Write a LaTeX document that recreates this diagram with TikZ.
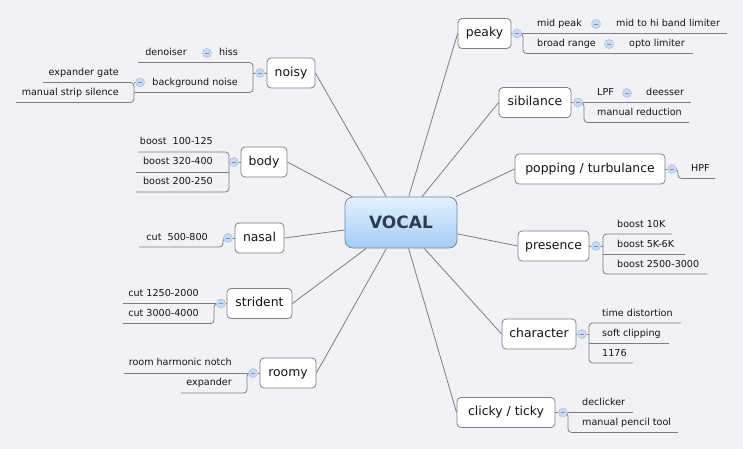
\documentclass[tikz,border=0pt]{standalone}
\usepackage{fontspec}
\setmainfont{DejaVu Sans}
\pgfdeclarelayer{background}
\pgfsetlayers{background,main}
\definecolor{bgc}{RGB}{241,242,246}
\definecolor{linec}{RGB}{125,125,128}
\definecolor{boxc}{RGB}{128,128,132}
\definecolor{vtop}{RGB}{228,241,253}
\definecolor{vbot}{RGB}{163,204,245}
\definecolor{vborder}{RGB}{112,136,162}
\definecolor{vtext}{RGB}{45,60,82}
\definecolor{circf}{RGB}{203,218,240}
\definecolor{circd}{RGB}{168,190,222}
\definecolor{txt}{RGB}{20,20,20}
\begin{document}
\begin{tikzpicture}[x=1pt,y=-1pt,
  main/.style={draw=linec, line width=0.8pt},
  link/.style={draw=linec, line width=0.8pt, rounded corners=3.5pt},
  topic/.style={draw=boxc, fill=white, rounded corners=4pt, line width=0.8pt,
    minimum height=30pt, inner sep=0pt, font=\fontsize{12.4}{14}\selectfont,
    text=txt, text height=9pt, text depth=2.5pt},
  leaf/.style={inner sep=0pt, font=\fontsize{9.6}{11}\selectfont, text=txt,
    text height=7pt, text depth=2pt},
  knob/.style={circle, fill=circf, draw=circd, line width=0.5pt, minimum size=9pt,
    inner sep=0pt, path picture={\draw[circd!75!black, line width=0.6pt]
      ([xshift=-2.2pt]path picture bounding box.center) --
      ([xshift=2.2pt]path picture bounding box.center);}},
]
\useasboundingbox (0,0) rectangle (743,448);
% central node
\node[draw=vborder, line width=0.8pt, rounded corners=8pt, top color=vtop,
  bottom color=vbot, minimum width=112pt, minimum height=51pt, inner sep=0pt,
  font=\bfseries\fontsize{17}{20}\selectfont, text=vtext] (vocal) at (401,222.5) {VOCAL};

% topics
\node[topic, minimum width=48pt]  (noisy)    at (291,73)      {noisy};
\node[topic, minimum width=46pt]  (body)     at (264,162)     {body};
\node[topic, minimum width=49pt]  (nasal)    at (259.5,238)   {nasal};
\node[topic, minimum width=65pt]  (strident) at (259.5,303.5) {strident};
\node[topic, minimum width=56pt]  (roomy)    at (288,373)     {roomy};
\node[topic, minimum width=53pt]  (peaky)    at (484.5,33.5)  {peaky};
\node[topic, minimum width=72pt]  (sibil)    at (535,102.5)   {sibilance};
\node[topic, minimum width=150pt] (popping)  at (590,169)     {popping / turbulance};
\node[topic, minimum width=71pt]  (presence) at (553.5,246)   {presence};
\node[topic, minimum width=74pt]  (charac)   at (539,334)     {character};
\node[topic, minimum width=98pt]  (clicky)   at (506,412.5)   {clicky / ticky};

% knobs
\node[knob] (knoisy) at (260,73) {};
\node[knob] (kbody)  at (234,162) {};
\node[knob] (knasal) at (228,238) {};
\node[knob] (kstr)   at (221,303.5) {};
\node[knob] (kroomy) at (253,373) {};
\node[knob] (kpeaky) at (517,33.5) {};
\node[knob] (ksibil) at (578,102.5) {};
\node[knob] (kpop)   at (672,169) {};
\node[knob] (kpres)  at (596,246) {};
\node[knob] (kchar)  at (582,334) {};
\node[knob] (kclick) at (563,412.5) {};
\node[knob] (kn1) at (207,53) {};
\node[knob] (kn2) at (140,82.5) {};
\node[knob] (km1) at (596,24) {};
\node[knob] (km2) at (609,44) {};
\node[knob] (ks1) at (627,93) {};

% leaves, left side
\node[leaf, anchor=east] (n1)  at (238,53)    {hiss};
\node[leaf, anchor=east] (n1g) at (187,53)    {denoiser};
\node[leaf, anchor=east] (n2)  at (238,83)    {background noise};
\node[leaf, anchor=east] (n2a) at (119,73)    {expander gate};
\node[leaf, anchor=east] (n2b) at (119,93)    {manual strip silence};
\node[leaf, anchor=east] (b1)  at (213,142)   {boost\ \ 100-125};
\node[leaf, anchor=east] (b2)  at (213,162)   {boost 320-400};
\node[leaf, anchor=east] (b3)  at (213,182)   {boost 200-250};
\node[leaf, anchor=east] (na1) at (208,237.5) {cut\ \ 500-800};
\node[leaf, anchor=east] (st1) at (199,293.5) {cut 1250-2000};
\node[leaf, anchor=east] (st2) at (199,313.5) {cut 3000-4000};
\node[leaf, anchor=east] (r1)  at (232,362.5) {room harmonic notch};
\node[leaf, anchor=east] (r2)  at (232,382.5) {expander};

% leaves, right side
\node[leaf, anchor=west] (m1)  at (537,24)    {mid peak};
\node[leaf, anchor=west] (m1g) at (616,24)    {mid to hi band limiter};
\node[leaf, anchor=west] (m2)  at (537,44)    {broad range};
\node[leaf, anchor=west] (m2g) at (629,44)    {opto limiter};
\node[leaf, anchor=west] (s1)  at (597,93)    {LPF};
\node[leaf, anchor=west] (s1g) at (646,93)    {deesser};
\node[leaf, anchor=west] (s2)  at (597,113)   {manual reduction};
\node[leaf, anchor=west] (h1)  at (691,169)   {HPF};
\node[leaf, anchor=west] (p1)  at (617,225)   {boost 10K};
\node[leaf, anchor=west] (p2)  at (617,244.5) {boost 5K-6K};
\node[leaf, anchor=west] (p3)  at (617,264.5) {boost 2500-3000};
\node[leaf, anchor=west] (ch1) at (602,313.5) {time distortion};
\node[leaf, anchor=west] (ch2) at (602,333.5) {soft clipping};
\node[leaf, anchor=west] (ch3) at (602,353.5) {1176};
\node[leaf, anchor=west] (k1)  at (582,402.5) {declicker};
\node[leaf, anchor=west] (k2)  at (582,422.5) {manual pencil tool};

% underline ends
\coordinate (n1e)  at (138,62.5);
\coordinate (n2e)  at (134,92.5);
\coordinate (n2ae) at (43,82.5);
\coordinate (n2be) at (16,102.5);
\coordinate (b1e)  at (138,152);
\coordinate (b2e)  at (136,172);
\coordinate (b3e)  at (136,192);
\coordinate (na1e) at (139,247);
\coordinate (st1e) at (123,303.5);
\coordinate (st2e) at (123,323.5);
\coordinate (r1e)  at (124,373);
\coordinate (r2e)  at (181,393);
\coordinate (m1e)  at (727,33.5);
\coordinate (m2e)  at (693,53.5);
\coordinate (s1e)  at (691,102.5);
\coordinate (s2e)  at (689,122.5);
\coordinate (h1e)  at (715,178.5);
\coordinate (p1e)  at (672,234);
\coordinate (p2e)  at (685,254);
\coordinate (p3e)  at (707,274);
\coordinate (ch1e) at (681,323);
\coordinate (ch2e) at (669,343);
\coordinate (ch3e) at (633,363);
\coordinate (k1e)  at (633,412.5);
\coordinate (k2e)  at (678,432.5);

\begin{pgfonlayer}{background}
\fill[bgc] (-2,-2) rectangle (745,450);
% main branches
\foreach \t in {noisy,body,nasal,strident,roomy}
  \draw[main] (\t.east) -- (vocal);
\foreach \t in {peaky,sibil,popping,presence,charac,clicky}
  \draw[main] (\t.west) -- (vocal);
% topic to knob stubs
\draw[main] (noisy) -- (knoisy);
\draw[main] (body) -- (kbody);
\draw[main] (nasal) -- (knasal);
\draw[main] (strident) -- (kstr);
\draw[main] (roomy) -- (kroomy);
\draw[main] (peaky) -- (kpeaky);
\draw[main] (sibil) -- (ksibil);
\draw[main] (popping) -- (kpop);
\draw[main] (presence) -- (kpres);
\draw[main] (charac) -- (kchar);
\draw[main] (clicky) -- (kclick);
% noisy
\draw[main] (knoisy) -- (253,73);
\draw[link] (n1e) -- (253,62.5) -- (253,92.5) -- (n2e);
\draw[main] (kn2) -- (134,82.5);
\draw[link] (n2ae) -- (134,82.5) -- (134,102.5) -- (n2be);
% body
\draw[main] (kbody) -- (229,162);
\draw[link] (b1e) -- (229,152) -- (229,192) -- (b3e);
\draw[main] (229,172) -- (b2e);
% nasal
\draw[link] (knasal) -- (223,238) -- (223,247) -- (na1e);
% strident
\draw[main] (kstr) -- (st1e);
\draw[link] (kstr) -- (214,303.5) -- (214,323.5) -- (st2e);
% roomy
\draw[main] (kroomy) -- (r1e);
\draw[link] (kroomy) -- (247,373) -- (247,393) -- (r2e);
% peaky
\draw[main] (kpeaky) -- (m1e);
\draw[link] (kpeaky) -- (523,33.5) -- (523,53.5) -- (m2e);
% sibilance
\draw[main] (ksibil) -- (s1e);
\draw[link] (ksibil) -- (584,102.5) -- (584,122.5) -- (s2e);
% popping
\draw[link] (kpop) -- (678,169) -- (678,178.5) -- (h1e);
% presence
\draw[main] (kpres) -- (603,246);
\draw[link] (p1e) -- (603,234) -- (603,274) -- (p3e);
\draw[main] (603,254) -- (p2e);
% character
\draw[main] (kchar) -- (589,334);
\draw[link] (ch1e) -- (589,323) -- (589,363) -- (ch3e);
\draw[main] (589,343) -- (ch2e);
% clicky
\draw[main] (kclick) -- (k1e);
\draw[link] (kclick) -- (568,412.5) -- (568,432.5) -- (k2e);
\end{pgfonlayer}
\end{tikzpicture}
\end{document}
